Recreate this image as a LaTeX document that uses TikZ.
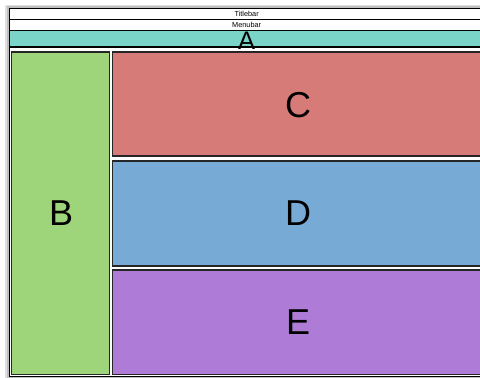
\documentclass[tikz,border=0pt]{standalone}
\usepackage{fontspec}
\setmainfont{Liberation Sans}
\begin{document}
\begin{tikzpicture}[x=0.75pt, y=-0.75pt,
    bar/.style={draw=black, line width=0.9pt, fill=white},
    pane/.style={draw=black!85, line width=0.9pt},
    barlbl/.style={font=\fontsize{5.5}{6}\selectfont, inner sep=0pt},
    biglbl/.style={font=\fontsize{27}{27}\selectfont, inner sep=0pt}]
  \useasboundingbox (0,0) rectangle (480,378);
  \clip (0,0) rectangle (480,378);
  % window shadow and frame
  \fill[black!12] (5,5) rectangle (484,378);
  \fill[black!25] (7,6.5) rectangle (484,378);
  \draw[bar] (9.3,8.3) rectangle (484,376.7);
  \draw[bar] (9.3,8.3) rectangle (484,19.3) node[midway, barlbl] (titlebar) {Titlebar};
  \draw[bar] (9.3,19.3) rectangle (484,30.3) node[midway, barlbl] (menubar) {Menubar};
  \draw[bar, fill={rgb,255:red,122;green,213;blue,200}] (9.3,30.3) rectangle (484,47)
    node[midway, font=\fontsize{19}{19}\selectfont, inner sep=0pt, yshift=-1.5pt] (a) {A};
  % panes
  \draw[pane, fill={rgb,255:red,159;green,213;blue,122}] (11.3,52) rectangle (109.3,374.7)
    node[midway, biglbl, xshift=0.7pt] (b) {B};
  \draw[pane, fill={rgb,255:red,214;green,123;blue,120}] (112.3,52) rectangle (484,156)
    node[midway, biglbl, yshift=-0.8pt] (c) {C};
  \draw[pane, fill={rgb,255:red,120;green,170;blue,214}] (112.3,161) rectangle (484,266)
    node[midway, biglbl] (d) {D};
  \draw[pane, fill={rgb,255:red,174;green,123;blue,214}] (112.3,270) rectangle (484,374.7)
    node[midway, biglbl] (e) {E};
\end{tikzpicture}
\end{document}
